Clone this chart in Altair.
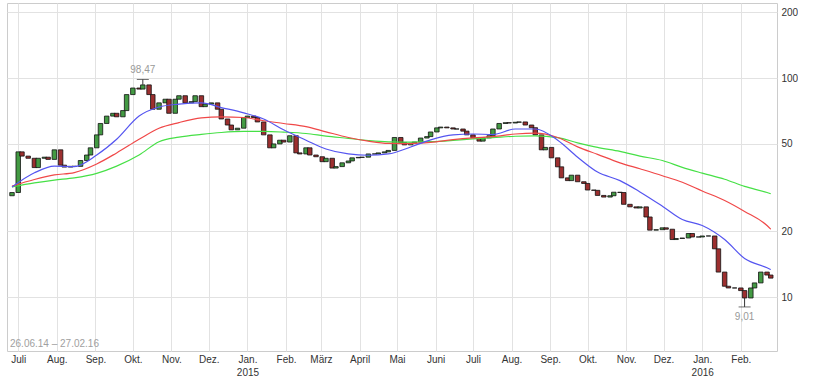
import altair as alt
import numpy as np
import pandas as pd

# ---------------- data ----------------
START = "2014-06-26"
END = "2016-02-26"
FIRST_OPEN = 29.0

# closes, one per 3rd business day from START
close = [
    30, 46, 44, 43, 39, 43, 43.5, 42.5, 47, 40,
    39.2, 39.5, 39.5, 42, 44.5, 48, 55, 62, 67, 69,
    66.5, 71, 84, 90, 89, 93, 84, 72, 77, 80,
    69, 80, 83, 77, 78, 83, 74, 76, 77, 72,
    65, 61, 58, 59, 66, 67, 66, 63, 55, 48,
    50, 52, 51, 54.5, 45.5, 45, 48, 44.5, 43.7, 41.5,
    43, 38.8, 39.4, 41, 41.8, 43.2, 43.4, 43.5, 45, 45,
    45.5, 46, 46.7, 53.5, 50.8, 49.5, 50.4, 51, 53.2, 54,
    56.7, 59.2, 59.7, 59.2, 58.5, 58.5, 57.2, 55, 53.4, 51.5,
    53.3, 54.5, 58.5, 62, 62.5, 62.3, 62.8, 63, 61, 59.3,
    55, 47, 48.2, 43.2, 39.3, 35, 34, 36, 33.6, 33,
    30.8, 30.7, 29.1, 28.6, 29, 30.1, 30, 26.5, 25.8, 25.5,
    25.8, 23.2, 20.2, 20.3, 20.7, 20.4, 18.3, 18.5, 18.6, 19.5,
    18.8, 18.8, 19, 19, 16.6, 13, 11.2, 11, 11, 10.7,
    9.9, 11, 11.6, 13, 12.6, 12.2,
]

# moving averages, one value per 4th candle (+ last)
ma_blue = [31.8, 36.9, 39.6, 39.4, 44.5, 52.5, 67, 73.7, 76, 77,
           73.3, 69.3, 65, 58, 52, 47.4, 45, 44.4, 45, 48.4,
           52.2, 55, 55.5, 55.2, 58.5, 58.5, 52, 43.5, 37.2, 34,
           30.2, 26, 22.6, 21.2, 18.3, 15, 13.6, 13.35]
ma_red = [32.1, 34.4, 36.1, 37, 40.5, 45.5, 52.5, 59, 62.6, 65.7,
          66.5, 66, 63.8, 62, 60, 56.8, 53.5, 51.5, 50.3, 50.2,
          50.8, 52.3, 53.3, 54, 55.5, 56, 53.5, 48.5, 44.8, 41,
          38.5, 35.8, 33.4, 30.5, 27.6, 24.6, 21.2, 20.4]
ma_green = [31.8, 33.2, 34.2, 35, 36.7, 39.6, 44.5, 51.2, 53.7, 55.3,
            56.4, 57, 57, 56.6, 55.8, 54.3, 53, 51.8, 51.1, 51,
            51.2, 51.9, 52.7, 53.4, 54.2, 54.4, 53.4, 50.6, 48.2, 46.2,
            44, 42, 39.1, 36.8, 34.5, 32, 30, 29.6]

HIGH_VALUE, HIGH_LABEL = 98.47, "98,47"
LOW_VALUE, LOW_LABEL = 9.01, "9,01"
RANGE_TEXT = "26.06.14 – 27.02.16"

y_ticks = [10, 20, 50, 100, 200]
month_names = ['Jan.', 'Feb.', 'März', 'April', 'Mai', 'Juni',
               'Juli', 'Aug.', 'Sep.', 'Okt.', 'Nov.', 'Dez.']
series_names = ["green", "red", "blue"]
series_colors = ["#46e046", "#f04848", "#5555f0"]

# ---------------- tables ----------------
bdays = pd.bdate_range(START, END)
sample_dates = bdays[::3]
n = min(len(sample_dates), len(close))
opens = [FIRST_OPEN] + close[: n - 1]
candles = pd.DataFrame({
    "date": sample_dates[:n],
    "value": opens[:n],
    "value2": close[:n],
})
candles["dir"] = np.where(candles["value2"] >= candles["value"], "up", "down")

ma_dates = list(sample_dates[:n][::4])
if len(ma_dates) < len(ma_blue):
    ma_dates.append(sample_dates[n - 1])
ma_rows = []
for name, vals in zip(series_names, [ma_green, ma_red, ma_blue]):
    for d, v in zip(ma_dates, vals):
        ma_rows.append({"date": d, "value": v, "series": name})
ma = pd.DataFrame(ma_rows)

hi_i = int(np.argmax(close[:n]))
lo_i = int(np.argmin(close[:n]))
marks = pd.DataFrame({
    "date": [sample_dates[hi_i], sample_dates[lo_i]],
    "value": [max(opens[hi_i], close[hi_i]), min(opens[lo_i], close[lo_i])],
    "value2": [HIGH_VALUE, LOW_VALUE],
    "label": [HIGH_LABEL, LOW_LABEL],
})

# ---------------- encodings ----------------
FONT = "Liberation Sans"
month_ticks = []
y, m = 2014, 7
while (y, m) <= (2016, 2):
    month_ticks.append(alt.DateTime(year=y, month=m, date=1))
    m += 1
    if m > 12:
        m, y = 1, y + 1

names_js = "[" + ",".join("'" + s + "'" for s in month_names) + "]"
label_expr = (
    "month(datum.value) == 0 ? ['" + month_names[0] + "', '' + year(datum.value)] : "
    + names_js + "[month(datum.value)]"
)

x_scale = alt.Scale(domain=[alt.DateTime(year=2014, month=6, date=26),
                            alt.DateTime(year=2016, month=2, date=26)], nice=False)
y_scale = alt.Scale(type="log", domain=[5.67, 220], nice=False, zero=False)

x_axis = alt.Axis(values=month_ticks, labelExpr=label_expr, grid=True,
                  gridColor="#e2e2e2", ticks=False, domain=False, title=None,
                  labelPadding=3, labelFontSize=10, labelFont=FONT,
                  labelColor="#333333", labelLineHeight=13, labelOverlap=False,
                  labelFlush=False, labelAlign="center", labelBaseline="top")
y_axis = alt.Axis(orient="right", values=y_ticks, format="d", grid=True,
                  gridColor="#e2e2e2", ticks=False, domain=False, title=None,
                  labelPadding=4, labelFontSize=10, labelFont=FONT,
                  labelColor="#333333")

X = alt.X("date:T", scale=x_scale, axis=x_axis)
Y = alt.Y("value:Q", scale=y_scale, axis=y_axis)

candle_layer = alt.Chart(candles).mark_bar(
    width=4.5, stroke="#111111", strokeWidth=0.8, clip=True
).encode(
    x=X, y=Y, y2="value2:Q",
    fill=alt.Fill("dir:N", scale=alt.Scale(domain=["up", "down"],
                                           range=["#439a43", "#9c2f2f"]), legend=None),
)

ma_layer = alt.Chart(ma).mark_line(strokeWidth=1.2, interpolate="monotone", clip=True).encode(
    x=X, y=Y,
    stroke=alt.Stroke("series:N", scale=alt.Scale(domain=series_names, range=series_colors),
                      legend=None),
    detail="series:N",
)

mk = alt.Chart(marks)
rule_layer = mk.mark_rule(color="#333333", strokeWidth=1).encode(x=X, y=Y, y2="value2:Q")
tick_layer = mk.mark_tick(orient="horizontal", size=12, thickness=1, color="#333333").encode(
    x=X, y=alt.Y("value2:Q", scale=y_scale))
text_hi = alt.Chart(marks.iloc[[0]]).mark_text(dy=-9, fontSize=10, font=FONT, color="#999999").encode(
    x=X, y=alt.Y("value2:Q", scale=y_scale), text="label:N")
text_lo = alt.Chart(marks.iloc[[1]]).mark_text(dy=10, fontSize=10, font=FONT, color="#999999").encode(
    x=X, y=alt.Y("value2:Q", scale=y_scale), text="label:N")

range_text = alt.Chart(pd.DataFrame({"t": [RANGE_TEXT]})).mark_text(
    align="left", baseline="middle", fontSize=10, font=FONT, color="#a0a0a0"
).encode(x=alt.value(3), y=alt.value(341), text="t:N")

chart = alt.layer(
    candle_layer, ma_layer, rule_layer, tick_layer, text_hi, text_lo, range_text
).properties(
    width=770, height=348,
    padding={"left": 7, "top": 3, "right": 0, "bottom": 0},
    background="white",
).configure_view(stroke="#cccccc", strokeWidth=1)

chart.save("out.html", embed_options={"renderer": "svg", "actions": False})
